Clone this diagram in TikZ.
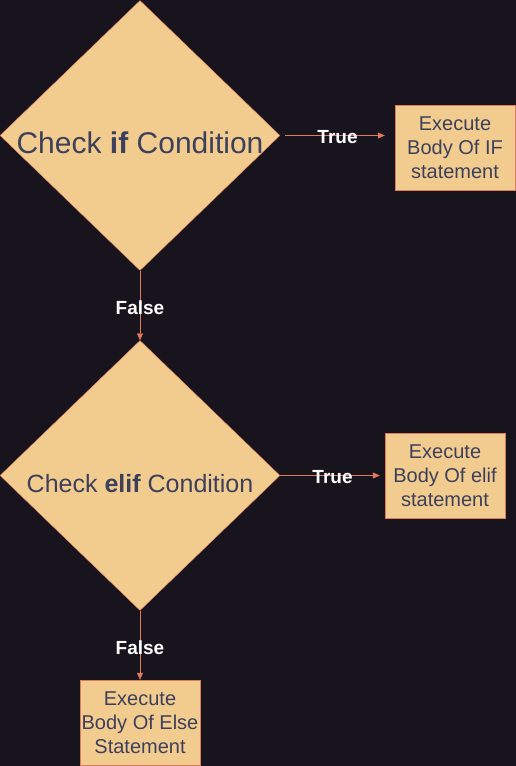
\documentclass[tikz,border=0pt]{standalone}
\usepackage{fontspec}
\setmainfont{Liberation Sans}
\usetikzlibrary{shapes.geometric,arrows.meta}
\definecolor{canvas}{HTML}{18141D}
\definecolor{sand}{HTML}{F2CC8F}
\definecolor{clay}{HTML}{E07A5F}
\definecolor{slate}{HTML}{3D405B}

\begin{document}
\begin{tikzpicture}[x=1pt,y=-1pt,
decision/.style={diamond,draw=clay,fill=sand,inner sep=0pt,
  minimum width=280pt,minimum height=270pt},
action/.style={rectangle,draw=clay,fill=sand,text=slate,inner sep=0pt,
  minimum width=120pt,minimum height=85pt,align=center,
  font=\fontsize{20pt}{24pt}\selectfont},
flow/.style={draw=clay,-{Triangle[length=7pt,width=6pt]}},
answer/.style={text=white,yshift=-2pt,font=\fontsize{19pt}{22pt}\selectfont\bfseries}]
%\draw[help lines] (0,0) grid (516,766);

\fill[canvas] (0,0) rectangle (516,766);
\useasboundingbox (0,0) rectangle (516,766);

\node[decision] (ifcheck) at (140,135.5) {};
\node[text=slate,yshift=-7pt,font=\fontsize{30pt}{36pt}\selectfont] (iftext) at (ifcheck)
  {Check \textbf{if} Condition};
\node[decision] (elifcheck) at (140,475.5) {};
\node[text=slate,yshift=-8pt,font=\fontsize{25pt}{30pt}\selectfont] (eliftext) at (elifcheck)
  {Check \textbf{elif} Condition};

\node[action] (ifbody) at (455,147.5) {Execute\\Body Of IF\\statement};
\node[action] (elifbody) at (445,475.5) {Execute\\Body Of elif\\statement};
\node[action] (elsebody) at (140,722.5) {Execute\\Body Of Else\\Statement};

\draw[flow,shorten <=5pt,shorten >=10pt] (ifcheck.east) -- (ifbody.west |- ifcheck.east)
  node[answer,pos=0.5] (iftrue) {True};
\draw[flow,shorten >=5pt] (elifcheck.east) -- (elifbody.west)
  node[answer,pos=0.5] (eliftrue) {True};
\draw[flow] (ifcheck.south) -- (elifcheck.north)
  node[answer,pos=0.5] (iffalse) {False};
\draw[flow] (elifcheck.south) -- (elsebody.north)
  node[answer,pos=0.5] (eliffalse) {False};

\end{tikzpicture}
\end{document}
